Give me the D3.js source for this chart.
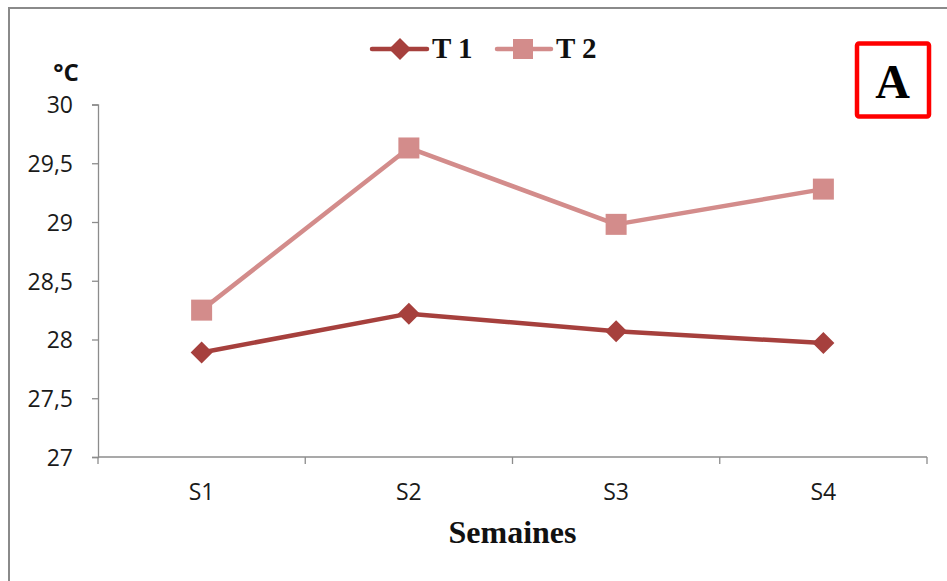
<!DOCTYPE html>
<html><head><meta charset="utf-8">
<script src="https://cdn.jsdelivr.net/npm/d3@7"></script>
<style>body{margin:0;background:#fff}svg{display:block}</style>
</head><body>
<script>
const categories = ["S1","S2","S3","S4"];
const seriesNames = ["T 1","T 2"];
const t1Values = [27.89, 28.22, 28.07, 27.97];
const t2Values = [28.25, 29.63, 28.98, 29.28];
const yTicks = [27, 27.5, 28, 28.5, 29, 29.5, 30];
const yTickLabels = ["27","27,5","28","28,5","29","29,5","30"];

const W = 947, H = 581;
const sansFont = "'Open Sans', 'Liberation Sans', sans-serif";
const serifFont = "'Liberation Serif', 'Times New Roman', serif";
const svg = d3.select("body").append("svg").attr("width", W).attr("height", H);
svg.append("rect").attr("x",0).attr("y",0).attr("width",W).attr("height",H).attr("fill","#fff");
svg.append("rect").attr("x",9).attr("y",8).attr("width",W+20).attr("height",H+20)
  .attr("fill","none").attr("stroke","#8a8a8a").attr("stroke-width",2);

const x0 = 98, x1 = 927, yTop = 104.5, yBot = 457;
const x = d3.scaleBand().domain(categories).range([x0, x1]).paddingInner(0).paddingOuter(0);
const y = d3.scaleLinear().domain([27, 30]).range([yBot, yTop]);
const cx = d => x(d) + x.bandwidth()/2;

const axisColor = "#8c8c8c";
const textColor = "#1a1a1a";
// y axis
const yAxis = svg.append("g").attr("transform",`translate(${x0},0)`)
  .call(d3.axisLeft(y).tickValues(yTicks).tickSize(6).tickPadding(19)
    .tickFormat((d,i)=>yTickLabels[i]));
yAxis.attr("font-size",null).attr("font-family",null);
yAxis.select(".domain").attr("stroke",axisColor).attr("stroke-width",1.3);
yAxis.selectAll(".tick line").attr("stroke",axisColor).attr("stroke-width",1.3);
yAxis.selectAll("text").style("font-family",sansFont)
  .style("font-size","23px").attr("dy","0.36em").attr("fill",textColor);

// x axis with boundary ticks
const xAxisG = svg.append("g").attr("transform",`translate(0,${yBot})`);
xAxisG.append("line").attr("x1",x0).attr("x2",x1).attr("y1",0).attr("y2",0)
  .attr("stroke",axisColor).attr("stroke-width",1.3);
const bounds = categories.map(c=>x(c)).concat([x1]);
xAxisG.selectAll("line.tk").data(bounds).enter().append("line").attr("class","tk")
  .attr("x1",d=>d).attr("x2",d=>d).attr("y1",0).attr("y2",7)
  .attr("stroke",axisColor).attr("stroke-width",1.3);
xAxisG.selectAll("text").data(categories).enter().append("text")
  .attr("x",d=>cx(d)).attr("y",43).attr("text-anchor","middle")
  .style("font-family",sansFont).style("font-size","23px")
  .attr("fill",textColor).text(d=>d);

// axis titles
svg.append("text").attr("x",66).attr("y",81).attr("text-anchor","middle")
  .style("font-family",sansFont).style("font-weight","bold")
  .style("font-size","24px").attr("fill","#111").text("°C");
svg.append("text").attr("x",512.5).attr("y",543).attr("text-anchor","middle")
  .style("font-family",serifFont).style("font-weight","bold")
  .style("font-size","32px").attr("fill","#111").text("Semaines");

const c1 = "#A6403D", c2 = "#D38C8B";
const line = d3.line().x((d,i)=>cx(categories[i])).y(d=>y(d));

svg.append("path").datum(t2Values).attr("d",line).attr("fill","none")
  .attr("stroke",c2).attr("stroke-width",4.5).attr("stroke-linejoin","round");
svg.selectAll("rect.m2").data(t2Values).enter().append("rect").attr("class","m2")
  .attr("x",(d,i)=>cx(categories[i])-10.5).attr("y",d=>y(d)-10.5)
  .attr("width",21).attr("height",21).attr("fill",c2);

svg.append("path").datum(t1Values).attr("d",line).attr("fill","none")
  .attr("stroke",c1).attr("stroke-width",4.5).attr("stroke-linejoin","round");
const diamond = "M0,-11L11,0L0,11L-11,0Z";
svg.selectAll("path.m1").data(t1Values).enter().append("path").attr("class","m1")
  .attr("d",diamond).attr("transform",(d,i)=>`translate(${cx(categories[i])},${y(d)})`)
  .attr("fill",c1);

// legend
const lg = svg.append("g");
lg.append("line").attr("x1",372).attr("x2",427).attr("y1",49).attr("y2",49)
  .attr("stroke",c1).attr("stroke-width",4.5).attr("stroke-linecap","round");
lg.append("path").attr("d",diamond).attr("transform","translate(400,49)").attr("fill",c1);
lg.append("text").attr("x",432).attr("y",58.3).style("font-family",serifFont)
  .style("font-weight","bold").style("font-size","29px")
  .attr("fill","#111").text(seriesNames[0]);
lg.append("line").attr("x1",497).attr("x2",551).attr("y1",49).attr("y2",49)
  .attr("stroke",c2).attr("stroke-width",4.5).attr("stroke-linecap","round");
lg.append("rect").attr("x",513).attr("y",39).attr("width",20).attr("height",20).attr("fill",c2);
lg.append("text").attr("x",556).attr("y",58.3).style("font-family",serifFont)
  .style("font-weight","bold").style("font-size","29px")
  .attr("fill","#111").text(seriesNames[1]);

// "A" box
svg.append("rect").attr("x",857).attr("y",43.5).attr("width",72).attr("height",73)
  .attr("rx",2).attr("fill","#fff").attr("stroke","#ff0000").attr("stroke-width",4.5);
svg.append("text").attr("x",892.5).attr("y",98.3).attr("text-anchor","middle")
  .style("font-family",serifFont).style("font-weight","bold")
  .style("font-size","48px").attr("fill","#000").text("A");
</script>
</body></html>
